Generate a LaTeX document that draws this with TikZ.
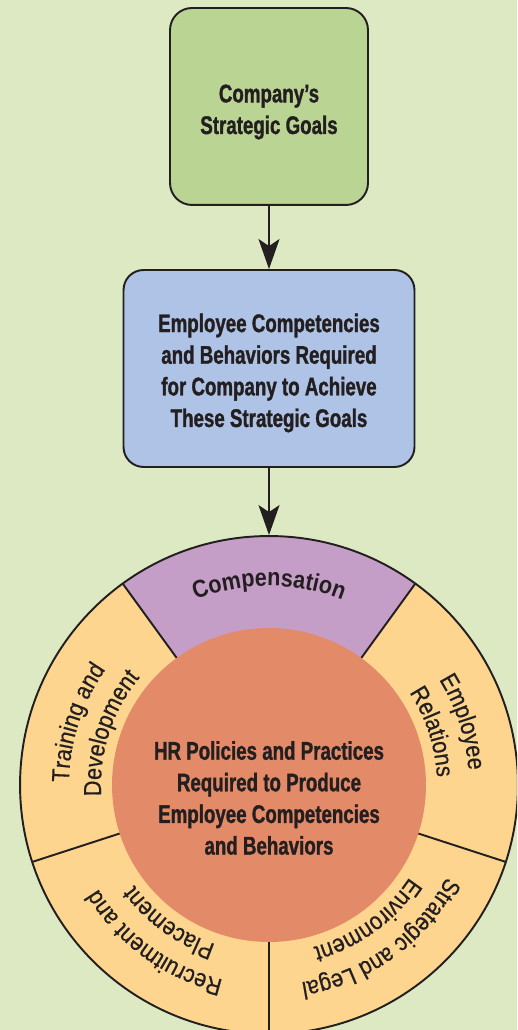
\documentclass[tikz,border=0pt]{standalone}
\usepackage{fontspec}
\setmainfont{Liberation Sans}
\newfontfamily\boxfont{Liberation Sans}[FakeStretch=0.735, BoldFeatures={FakeBold=1.2}]
\newfontfamily\ringfont{Liberation Sans}[FakeStretch=0.88, UprightFeatures={FakeBold=0.5}]
\usetikzlibrary{arrows.meta, decorations.text}

\definecolor{paper}{HTML}{DCE9C3}
\definecolor{goalgreen}{HTML}{BAD493}
\definecolor{needblue}{HTML}{AEC3E5}
\definecolor{ringpurple}{HTML}{C59EC8}
\definecolor{ringorange}{HTML}{FDD58E}
\definecolor{hubsalmon}{HTML}{E38A68}
\definecolor{inkdark}{HTML}{231F20}

\newcommand{\ringtext}{\ringfont\fontsize{14}{16}\selectfont\color{inkdark}}
\newcommand{\ringbold}{\ringfont\bfseries\fontsize{14}{16}\selectfont\color{inkdark}}

\begin{document}
\begin{tikzpicture}[
    x=0.02cm, y=0.02cm,
    every node/.style={font=\boxfont\bfseries\fontsize{14.5}{18}\selectfont,
                       align=center, text=inkdark},
    goalbox/.style={rectangle, rounded corners=0.44cm, draw=inkdark,
                    line width=1.1pt, fill=goalgreen,
                    minimum width=3.96cm, minimum height=3.94cm},
    needbox/.style={goalbox, fill=needblue, rounded corners=0.4cm,
                    minimum width=5.82cm},
    wheel/.style={circle, draw=inkdark, line width=1.1pt,
                  minimum size=9.96cm, inner sep=0pt},
    hub/.style={circle, fill=hubsalmon, minimum size=6.28cm, inner sep=0pt},
    spoke/.style={draw=inkdark, line width=1.1pt},
    flow/.style={draw=inkdark, line width=1.1pt,
                 -{Stealth[length=0.6cm, width=0.42cm, inset=0.14cm]}},
    ringlabel/.style={decorate, decoration={text along path,
                      text align=center, text={#1}}},
]

% ---------- Background ----------
\clip (0,0) rectangle (517,1030);
\fill[paper] (0,0) rectangle (517,1030);

% ---------- Boxes ----------
\node[goalbox] (goals) at (269, 923.5) {};
\node (goalstext) at ([yshift=-0.11cm]goals.center)
    {Company’s\\Strategic Goals};

\node[needbox] (needs) at (269, 661.5) {};
\node (needstext) at ([yshift=-0.09cm]needs.center)
    {Employee Competencies\\and Behaviors Required\\for Company to Achieve\\These Strategic Goals};

% ---------- Wheel ----------
\coordinate (hubc) at (269, 245);
\begin{scope}[shift={(hubc)}]
    \fill[ringorange] (0,0) circle[radius=249];
    \fill[ringpurple] (0,0) -- (54:249)
        arc[start angle=54, end angle=126, radius=249] -- cycle;
\end{scope}

\node[wheel] (wheel) at (hubc) {};

\foreach \a in {54,126,198,270,342}
    \draw[spoke] ([shift={(\a:157)}]hubc) -- ([shift={(\a:249)}]hubc);

\node[hub] (hub) at (hubc) {};
\node (hubtext) at ([yshift=-0.26cm]hubc)
    {HR Policies and Practices\\Required to Produce\\Employee Competencies\\and Behaviors};

% ---------- Ring labels ----------
\begin{scope}[shift={(hubc)}]
    \path[ringlabel={|\ringbold|Compensation}]
        (126:199) arc[start angle=126, end angle=54, radius=199];

    \path[ringlabel={|\ringtext|Training and}]
        (198:200) arc[start angle=198, end angle=126, radius=200];
    \path[ringlabel={|\ringtext|Development}]
        (198:168) arc[start angle=198, end angle=126, radius=168];

    \path[ringlabel={|\ringtext|Recruitment and}]
        (270:200) arc[start angle=270, end angle=198, radius=200];
    \path[ringlabel={|\ringtext|Placement}]
        (270:168) arc[start angle=270, end angle=198, radius=168];

    \path[ringlabel={|\ringtext|Strategic and Legal}]
        (342:200) arc[start angle=342, end angle=270, radius=200];
    \path[ringlabel={|\ringtext|Environment}]
        (342:168) arc[start angle=342, end angle=270, radius=168];

    \path[ringlabel={|\ringtext|Employee}]
        (54:200) arc[start angle=54, end angle=-18, radius=200];
    \path[ringlabel={|\ringtext|Relations}]
        (54:168) arc[start angle=54, end angle=-18, radius=168];
\end{scope}

% ---------- Arrows ----------
\draw[flow] (goals) -- (needs);
\draw[flow] (needs) -- (wheel);

\end{tikzpicture}
\end{document}
